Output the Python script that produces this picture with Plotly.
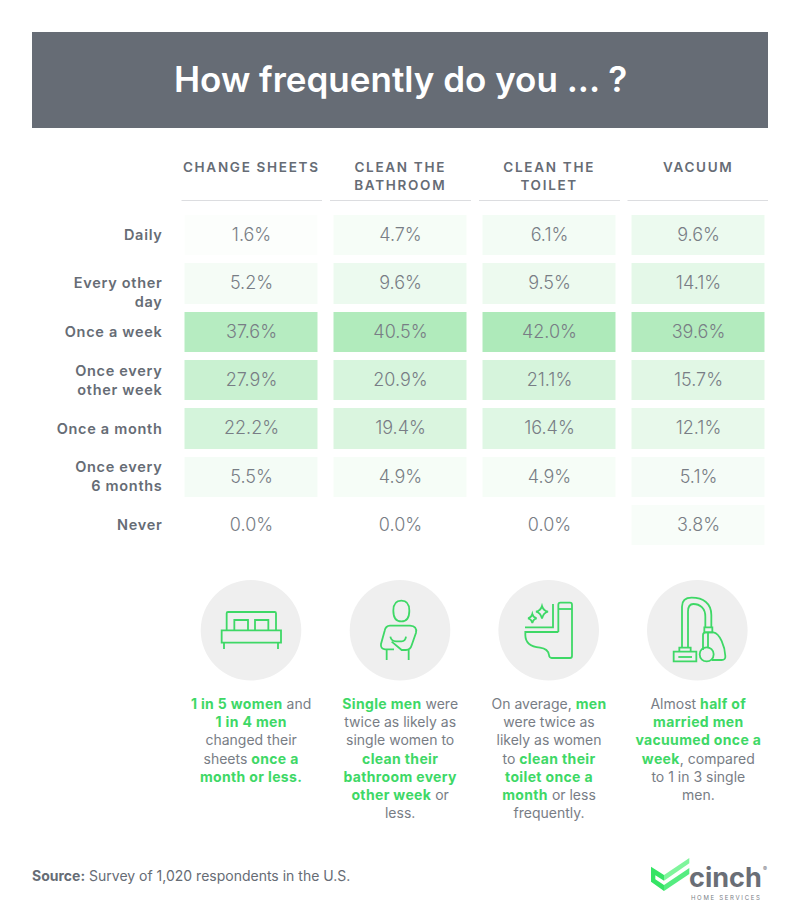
import re
import plotly.graph_objects as go

# ---------- data ----------
tasks = ["CHANGE SHEETS", "CLEAN THE<br>BATHROOM", "CLEAN THE<br>TOILET", "VACUUM"]
frequencies = ["Daily", "Every other<br>day", "Once a week", "Once every<br>other week",
               "Once a month", "Once every<br>6 months", "Never"]
change_sheets = [1.6, 5.2, 37.6, 27.9, 22.2, 5.5, 0.0]
clean_bathroom = [4.7, 9.6, 40.5, 20.9, 19.4, 4.9, 0.0]
clean_toilet = [6.1, 9.5, 42.0, 21.1, 16.4, 4.9, 0.0]
vacuum = [9.6, 14.1, 39.6, 15.7, 12.1, 5.1, 3.8]

G = "#3ed866"
def g(s):
    return f'<b><span style="color:{G}">{s}</span></b>'

captions = [
    f'{g("1 in 5 women")} and<br>{g("1 in 4 men")}<br>changed their<br>sheets {g("once a")}<br>{g("month or less.")}',
    f'{g("Single men")} were<br>twice as likely as<br>single women to<br>{g("clean their")}<br>{g("bathroom every")}<br>{g("other week")} or<br>less.',
    f'On average, {g("men")}<br>were twice as<br>likely as women<br>to {g("clean their")}<br>{g("toilet once a")}<br>{g("month")} or less<br>frequently.',
    f'Almost {g("half of")}<br>{g("married men")}<br>{g("vacuumed once a")}<br>{g("week")}, compared<br>to 1 in 3 single<br>men.',
]
title = "How frequently do you ... ?"
source = "<b>Source:</b> Survey of 1,020 respondents in the U.S."

# ---------- style ----------
W, H = 800, 923
FONT = "Inter"
GREY = "#666c75"
TXT = "#787d85"
X0, X1 = 176.5, 772.5
Y0, Y1 = 211.0, 549.3
centers = [251.0, 400.0, 549.0, 698.0]
z = [list(r) for r in zip(change_sheets, clean_bathroom, clean_toilet, vacuum)]
cols = list(range(4))

fig = go.Figure()
fig.add_trace(go.Heatmap(
    z=z, x=cols, y=frequencies, xgap=16, ygap=8,
    colorscale=[[0, "#ffffff"], [1, "#aeeaba"]], zmin=0, zmax=42, showscale=False,
    texttemplate="%{z:.1f}%", textfont=dict(family=FONT, size=18, color=TXT, weight=300),
    hoverinfo="skip"))
fig.add_trace(go.Scatter(x=[], y=[], xaxis="x2", yaxis="y2", showlegend=False))


def path(d, ox, oy):
    """zoom-crop coordinates (3x) -> page pixels"""
    res, isx = [], True
    for tok in re.findall(r"[MLCQZ]|-?\d+\.?\d*", d):
        if tok.isalpha():
            res.append(tok); isx = True
        else:
            v = float(tok)
            res.append(f"{(ox if isx else oy) + v / 3:.2f}")
            isx = not isx
    s = ""
    i = 0
    while i < len(res):
        if res[i].isalpha():
            s += res[i] + " "
            i += 1
        else:
            s += f"{res[i]},{res[i+1]} "
            i += 2
    return s.strip()


shapes = []
def sh(**k):
    shapes.append(dict(xref="x2", yref="y2", layer="above", **k))

def stroke(d, ox, oy, w=1.8):
    sh(type="path", path=path(d, ox, oy), line=dict(color=G, width=w), fillcolor="rgba(0,0,0,0)")

# banner
sh(type="rect", x0=32, x1=768, y0=32, y1=128, fillcolor=GREY, line_width=0)
shapes[-1]["layer"] = "below"
# header rules
for a, b in [(181.5, 322), (330, 471), (479, 620), (627.5, 768)]:
    sh(type="line", x0=a, x1=b, y0=200.5, y1=200.5, line=dict(color="#dcdde0", width=1))
# icon discs
for cx in [251, 400, 548.7, 697.3]:
    sh(type="circle", x0=cx - 50.3, x1=cx + 50.3, y0=580, y1=680.6, fillcolor="#efefef", line_width=0)
    shapes[-1]["layer"] = "below"

# bed
bed = (180, 570)
for d in ["M 125 181 L 303 181 L 303 218 L 125 218 Z",
          "M 140 181 L 140 130 Q 140 126 144 126 L 284 126 Q 288 126 288 130 L 288 181",
          "M 163 181 L 163 150 L 204 150 L 204 181",
          "M 225 181 L 225 150 L 265 150 L 265 181",
          "M 132 218 L 132 237", "M 294 218 L 294 237"]:
    stroke(d, *bed)
# person
for d in ["M 640 122 C 640 100 650 92 664 92 C 678 92 688 100 688 122 C 688 145 678 154 664 154 C 650 154 640 145 640 122 Z",
          "M 690 167 L 630 167 Q 617 168 614 182 L 603 222 Q 601 236 615 238 L 642 238",
          "M 690 167 Q 712 168 708 188 L 695 226 Q 691 240 678 240 L 665 240 L 635 215",
          "M 631 200 Q 634 214 648 214 L 665 214 Q 676 214 678 200",
          "M 620 240 L 620 270", "M 686 240 L 686 270"]:
    stroke(d, *bed)
# toilet
toi = (480, 570)
for d in ["M 235 186 L 235 104 Q 235 98 241 98 L 270 98 Q 276 98 276 104 L 276 258 Q 276 264 270 264 L 215 264 Q 208 264 207 255 C 205 240 195 235 180 233 C 150 230 136 215 136 195 L 136 186 L 235 186",
          "M 235 117 L 276 117", "M 219 102 L 219 172 L 135 172",
          "M 186 108 Q 190 122 204 125 Q 190 128 186 146 Q 182 128 168 125 Q 182 122 186 108 Z",
          "M 157 132 Q 160 143 170 145 Q 160 147 157 159 Q 154 147 144 145 Q 154 143 157 132 Z"]:
    stroke(d, *toi)
# vacuum
for d in ["M 606 233 L 606 110 Q 606 83 635 83 C 670 83 694 100 694 135 L 694 172",
          "M 624 233 L 624 125 Q 624 102 640 102 C 660 102 676 115 676 140 L 676 172",
          "M 581 245 L 649 245 L 649 274 L 581 274 Z", "M 595 261 L 636 261",
          "M 598 245 L 598 233 L 632 233 L 632 245",
          "M 673 187 L 673 172 L 697 172 L 697 187 Z",
          "M 669 240 L 669 195 Q 669 187 677 187 L 700 187 C 720 190 735 230 736 258 Q 737 270 725 270 L 695 270",
          "M 684 187 L 684 232",
          "M 659 253 C 659 225 701 225 701 253 C 701 281 659 281 659 253 Z"]:
    stroke(d, *toi)
# logo
logo = (600, 840)
sh(type="path", path=path("M 153 80 L 192 105 L 192 122 L 166 106 L 166 118 L 192 135 L 192 153 L 153 125 Z", *logo),
   fillcolor="#35e465", line_width=0)
sh(type="path", path=path("M 192 105 L 268 54 L 268 70 L 192 122 Z", *logo), fillcolor="#7ff59c", line_width=0)
sh(type="path", path=path("M 192 135 L 268 84 L 268 102 L 192 153 Z", *logo), fillcolor="#55ec80", line_width=0)

# ---------- text ----------
ann = []
def txt(x, y, text, size, color=GREY, xanchor="center", yanchor="middle", align="center", **k):
    ann.append(dict(xref="x2", yref="y2", x=x, y=y, text=text, showarrow=False, xanchor=xanchor,
                    yanchor=yanchor, align=align, font=dict(family=FONT, size=size, color=color, **k)))

txt(400, 79, title, 35, "#ffffff", weight=600)
for cx, t in zip(centers, tasks):
    txt(cx, 157, t, 13.5, GREY, yanchor="top", weight=600)
for cx, c in zip(centers, captions):
    txt(cx, 693, c, 14, TXT, yanchor="top")
txt(30, 875, source, 14, GREY, xanchor="left")
txt(725, 877, "<b>cinch</b>", 27, "#6a6e76", xanchor="center")
txt(726, 897, "HOME SERVICES", 6, "#7a7e86", xanchor="center")
txt(765, 868, "®", 6, "#6a6e76", xanchor="center")

fig.update_layout(
    width=W, height=H, margin=dict(l=0, r=0, t=0, b=0),
    paper_bgcolor="white", plot_bgcolor="rgba(0,0,0,0)", showlegend=False,
    shapes=shapes, annotations=ann,
    xaxis=dict(domain=[X0 / W, X1 / W], range=[-0.5, 3.5], showticklabels=False, showgrid=False,
               zeroline=False, ticks=""),
    yaxis=dict(domain=[1 - Y1 / H, 1 - Y0 / H], autorange="reversed", showgrid=False, zeroline=False,
               ticks="", ticklabelstandoff=13, type="category",
               tickfont=dict(family=FONT, size=14.5, color=GREY, weight=600)),
    xaxis2=dict(domain=[0, 1], range=[0, W], visible=False, anchor="y2", fixedrange=True),
    yaxis2=dict(domain=[0, 1], range=[H, 0], visible=False, anchor="x2", fixedrange=True),
)

js = """
document.body.style.margin='0';
document.querySelectorAll('.annotation-text').forEach(function(t){
  var s=t.textContent;
  if(s==='HOME SERVICES'){t.style.letterSpacing='1.7px';}
  else if(s===s.toUpperCase() && /[A-Z]{4}/.test(s)){t.style.letterSpacing='1.7px';}
  else if(s.indexOf('Source')!==0 && s!=='cinch'){
    t.querySelectorAll('tspan').forEach(function(sp){
      if((sp.getAttribute('style')||'').indexOf('bold')>=0){sp.style.letterSpacing='0.35px';}
    });
  }
});
document.querySelectorAll('.ytick text').forEach(function(t){
  t.style.letterSpacing='0.7px';
  if(t.textContent.indexOf('Every other')===0){
    t.parentNode.setAttribute('transform','translate(0,9)');
  }
});
"""
fig.write_html("out.html", post_script=js, config={"displayModeBar": False})
